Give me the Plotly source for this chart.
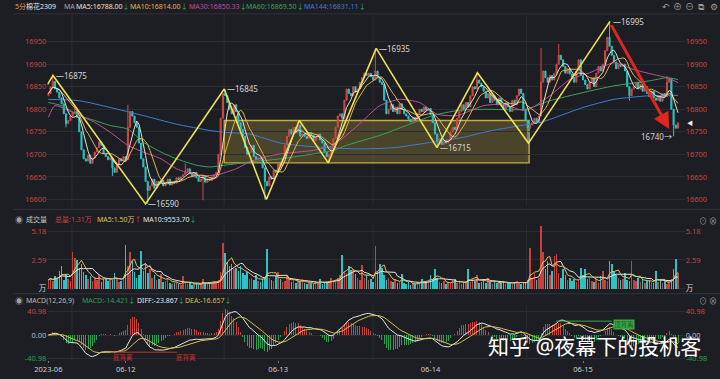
import plotly.graph_objects as go
import pandas as pd

W, H = 720, 379

# ---------------- data ----------------
first_open = 16830
close = [
    16835, 16850, 16862, 16845,                      # 0
    16838, 16825, 16812, 16790, 16768,               # 4
    16775, 16785, 16792, 16795, 16782,               # 9
    16750, 16710, 16690,                             # 14
    16685, 16698, 16680, 16692,                      # 17
    16705, 16715, 16728, 16720,                      # 21
    16702, 16695, 16688, 16692,                      # 25
    16670, 16660,                                    # 29
    16678, 16690, 16685, 16695, 16688,               # 31
    16760, 16795,                                    # 36
    16785, 16770, 16760,                             # 38
    16725, 16690, 16672,                             # 41
    16640, 16620, 16630, 16645, 16625, 16640,        # 44
    16635, 16642, 16630, 16638, 16645, 16632, 16640, 16636, 16648, 16644, 16650,  # 50
    16655, 16662, 16668, 16658, 16650, 16660,        # 61
    16648, 16640, 16645, 16652, 16638, 16645,        # 67
    16642, 16650, 16655, 16660,                      # 73
    16700, 16780, 16835,                             # 77
    16830, 16815, 16800, 16790, 16810, 16795, 16770, 16755, 16740, 16715, 16700,  # 80
    16705, 16720, 16695, 16688, 16692,               # 91
    16690, 16670,                                    # 96
    16640, 16630,                                    # 98
    16650, 16645, 16665, 16660, 16680, 16675, 16690, # 100
    16720, 16740, 16755,                             # 107
    16745, 16760, 16748, 16765, 16740, 16745,        # 110
    16740, 16735, 16748, 16742, 16730, 16738, 16745, 16732, 16725,  # 116
    16705, 16695, 16700, 16712,                      # 125
    16735, 16760, 16785, 16790, 16780,               # 129
    16820, 16845, 16835,                             # 134
    16830, 16850, 16838, 16845,                      # 137
    16860, 16870, 16880, 16875,                      # 141
    16880, 16872, 16865, 16885,                      # 145
    16870, 16860, 16855,                             # 149
    16820, 16790,                                    # 152
    16800, 16810, 16795, 16805, 16790, 16812,        # 154
    16800, 16790, 16785,                             # 160
    16778, 16772, 16782, 16775,                      # 163
    16790, 16800, 16795, 16805, 16798, 16802, 16788, # 167
    16770, 16745, 16728, 16735, 16722, 16730,        # 174
    16725, 16732,                                    # 180
    16750, 16760, 16755,                             # 182
    16780, 16795, 16810, 16800, 16815, 16805,        # 185
    16830, 16850, 16845, 16865, 16858, 16850,        # 191
    16840, 16825, 16835, 16815, 16830, 16820, 16810, 16825,  # 197
    16810, 16800, 16815, 16805, 16795, 16820, 16810, # 205
    16830, 16845, 16835,                             # 212
    16800, 16775,                                    # 215
    16758, 16765,                                    # 217
    16770, 16780, 16772, 16785,                      # 219
    16860, 16885,                                    # 223
    16870, 16860, 16875, 16865, 16880,               # 225
    16900, 16920, 16910,                             # 230
    16895, 16880, 16890, 16878,                      # 233
    16870, 16860, 16885, 16910, 16875, 16865,        # 237
    16855, 16845, 16860, 16870, 16850,               # 243
    16880, 16895, 16885, 16900,                      # 248
    16930, 16960, 16940, 16920,                      # 252
    16905, 16890, 16900, 16895,                      # 256
    16900, 16885,                                    # 260
    16850, 16830, 16845,                             # 262
    16850, 16860, 16845, 16855, 16840, 16850,        # 265
    16835, 16828, 16840,                             # 271
    16825, 16820, 16830, 16818, 16835, 16828,        # 274
    16860, 16868,                                    # 280
    16800,                                           # 282
    16765, 16758, 16770,                             # 283
]

# notable wick extremes (bar index: price)
high_marks = {2: 16875, 12: 16808, 36: 16810, 62: 16680, 80: 16845, 113: 16775,
              148: 16935, 194: 16881, 223: 16936, 231: 16945, 254: 16995, 280: 16874}
low_marks = {8: 16760, 29: 16652, 45: 16590, 70: 16598, 98: 16600, 127: 16681,
             176: 16715, 217: 16725, 263: 16819, 283: 16740}

volume = [  # 万手
    0.8, 1.0, 0.7, 1.1, 0.9, 1.6, 2.0, 0.8, 1.2, 0.9, 0.7, 3.3, 2.8, 2.6,
    1.9, 2.2, 1.5, 1.2, 0.9, 1.1, 0.7, 1.0, 0.8, 1.2, 0.6, 0.9, 1.0, 0.7,
    1.0, 0.8, 1.4, 0.9, 0.6, 0.7, 1.1, 3.9, 2.0, 3.3, 2.5, 1.5, 1.0, 1.2,
    3.4, 1.6, 2.2, 1.4, 1.8, 1.0, 1.2, 0.8, 0.9, 1.3, 0.6, 0.7, 1.0,
    0.5, 0.4, 0.5, 0.6, 0.4, 0.3, 1.1,
    0.5, 0.4, 0.6, 0.3, 0.4, 0.5, 0.3, 0.4, 0.9,
    0.5, 0.4, 0.6, 0.5, 0.7, 0.6, 0.8, 1.5,
    4.1, 3.2, 2.4, 2.0,
    2.2, 1.8, 1.9, 1.6, 2.0, 1.4, 1.2, 1.5, 0.9, 1.0,
    0.8, 1.2, 0.7, 0.6, 0.9, 1.0, 3.6,
    1.0, 0.8, 0.7, 1.1, 1.5, 0.9, 0.6, 0.7,
    1.2, 0.9, 0.6, 0.8, 0.5, 0.7, 0.6, 0.9, 0.5, 0.4,
    0.6, 0.5, 0.4, 0.7, 0.5, 0.9, 0.4, 0.5, 0.6,
    0.7, 1.0, 0.6, 0.8, 1.0, 1.2,
    3.0, 1.6, 1.4, 2.0, 1.7,
    1.8, 1.3, 1.0, 0.8, 2.1, 1.0, 1.2,
    0.8, 0.9, 0.6, 3.8, 1.6, 2.2, 1.9, 1.2,
    0.8, 1.0, 0.7, 0.6, 0.9, 0.5, 0.6, 1.3,
    0.5, 0.4, 0.6, 0.3, 0.5, 0.4, 0.6, 0.5, 0.9, 0.7, 0.6,
    0.8, 1.2, 0.9, 1.8,
    1.0, 0.6, 0.5, 0.7, 0.4, 0.6, 0.5, 0.8, 0.9, 0.5, 0.6, 0.4, 0.5,
    0.7, 1.8, 0.6, 0.9, 0.7, 1.2,
    0.5, 0.6, 0.8, 0.5, 1.0, 0.6, 0.4, 0.7, 0.5,
    0.6, 0.5, 0.7, 0.4, 0.6, 0.5, 0.4, 0.6, 0.7, 0.5, 0.4, 0.6, 0.5, 0.8,
    3.7, 1.0, 1.4, 0.8, 1.0,
    5.6, 3.3, 1.8, 2.5, 1.2, 1.6, 2.9,
    3.1, 1.4, 1.0, 1.8,
    1.2, 0.8, 1.0, 0.7, 0.9, 0.6, 0.8,
    1.9, 1.2, 1.8, 0.9, 1.0,
    0.7, 0.6, 0.9, 0.5, 1.1, 1.6, 0.8, 0.7,
    2.5, 2.2,
    1.5, 1.2, 1.0, 0.8, 0.9, 1.4, 0.8, 0.7,
    2.5,
    0.8, 0.7, 1.0, 0.6, 0.9, 0.5, 0.7, 0.8, 0.6, 0.5,
    1.6,
    0.6, 0.8, 0.5, 0.7, 0.4, 0.6, 0.9,
    1.8, 2.7, 1.4,
]

# slow moving averages (bar index, value)
ma30_x = [0, 3, 11, 21, 28, 36, 43, 51, 58, 67, 76, 85, 91, 98, 105, 120, 129, 140, 150,
          159, 168, 176, 185, 197, 206, 216, 227, 236, 245, 256, 265, 274, 280, 285]
ma30_y = [16782, 16808, 16793, 16771, 16749, 16720, 16705, 16690, 16668, 16654, 16654,
          16668, 16683, 16694, 16701, 16709, 16720, 16764, 16808, 16822, 16815, 16789,
          16786, 16808, 16811, 16797, 16830, 16866, 16881, 16903, 16888, 16877, 16870, 16859]
ma60_x = [0, 6, 14, 21, 28, 36, 43, 51, 58, 67, 73, 80, 91, 105, 120, 129, 135, 150, 162,
          174, 185, 197, 216, 227, 242, 256, 272, 280, 285]
ma60_y = [16815, 16808, 16786, 16775, 16764, 16756, 16727, 16705, 16690, 16676, 16672,
          16676, 16683, 16690, 16701, 16709, 16720, 16742, 16764, 16786, 16797, 16800,
          16800, 16819, 16837, 16852, 16863, 16870, 16866]
ma144_x = [0, 14, 28, 43, 58, 73, 80, 91, 105, 117, 140, 157, 171, 188, 197, 215, 223,
           242, 256, 272, 285]
ma144_y = [16822, 16819, 16804, 16786, 16767, 16753, 16749, 16745, 16725, 16718, 16712,
           16715, 16725, 16738, 16749, 16765, 16771, 16804, 16822, 16830, 16831]

# zig-zag swing line and its labels
zig_x = [-0.4, 2.1, 44, 79.6, 98.7, 113.6, 126.7, 148.4, 175.9, 194.2, 217.3, 254.2]
zig_y = [16855, 16875, 16590, 16845, 16600, 16775, 16681, 16935, 16715, 16881, 16725, 16995]
swing_labels = [(2.1, 16875), (44, 16590), (79.6, 16845), (148.4, 16935), (175.9, 16715), (254.2, 16995)]
arrow_from = (254.4, 16990)
arrow_to = (281, 16756)
last_low = (283, 16740)
box_x = [79.6, 217.6]
box_y = [16681, 16775]

date_ticks = [0, 35, 104, 173, 242]
date_labels = ["2023-06", "06-12", "06-13", "06-14", "06-15"]
price_ticks = [16600, 16650, 16700, 16750, 16800, 16850, 16900, 16950]
session_lines = [10.7, 79.6, 147, 216.5]

assert len(close) == 286 and len(volume) == 286

# ---------------- derived series ----------------
n = len(close)
idx = list(range(n))
opn = [first_open] + close[:-1]
high = [max(o, c) for o, c in zip(opn, close)]
low = [min(o, c) for o, c in zip(opn, close)]
for k, v in high_marks.items():
    high[k] = max(high[k], v)
for k, v in low_marks.items():
    low[k] = min(low[k], v)

cs = pd.Series(close, dtype=float)
ma5 = cs.rolling(5, min_periods=1).mean()
ma10 = cs.rolling(10, min_periods=1).mean()
vs = pd.Series(volume, dtype=float)
vma5 = vs.rolling(5, min_periods=1).mean()
vma10 = vs.rolling(10, min_periods=1).mean()
ema12 = cs.ewm(span=12, adjust=False).mean()
ema26 = cs.ewm(span=26, adjust=False).mean()
diff = ema12 - ema26
dea = diff.ewm(span=9, adjust=False).mean()
macd = 2 * (diff - dea)

RED = "#c8423c"
CYAN = "#2cc3c6"
GREEN = "#2aa052"
BG = "#1c1e23"
GRID = "#2a2d33"
FONT = "Noto Sans, Noto Sans CJK SC, sans-serif"

up = [c >= o for o, c in zip(opn, close)]
vol_colors = [RED if u else CYAN for u in up]
macd_colors = [RED if m >= 0 else GREEN for m in macd]


def ydom(top_px, bot_px):
    return [1 - bot_px / H, 1 - top_px / H]


def xpx(p):
    return p / W


def ypx(p):
    return 1 - p / H


PXPT = 0.4543


def price_at(py):
    return 16950 - (py - 42) / PXPT


main_range = [price_at(208), price_at(15)]
vol_range = [(291 - 293) / 11.2, (291 - 226) / 11.2]
MACD_PX = 0.578
macd_range = [-(363 - 337.7) / MACD_PX, (337.7 - 307) / MACD_PX]

fig = go.Figure()

fig.add_trace(go.Candlestick(
    x=idx, open=opn, high=high, low=low, close=close,
    increasing=dict(line=dict(color="#d44a43", width=1), fillcolor="#bf3d38"),
    decreasing=dict(line=dict(color=CYAN, width=1), fillcolor=CYAN),
    whiskerwidth=0, hoverinfo="skip", yaxis="y"))

for xs, ys, col in [(ma144_x, ma144_y, "#3d7fd0"), (ma60_x, ma60_y, "#3aa45c"),
                    (ma30_x, ma30_y, "#c0509a")]:
    fig.add_trace(go.Scatter(x=xs, y=ys, mode="lines",
                             line=dict(color=col, width=1, shape="spline", smoothing=0.6),
                             hoverinfo="skip", yaxis="y"))
fig.add_trace(go.Scatter(x=idx, y=ma10, mode="lines", line=dict(color="#e2b44c", width=1), hoverinfo="skip", yaxis="y"))
fig.add_trace(go.Scatter(x=idx, y=ma5, mode="lines", line=dict(color="#e8e0cc", width=1), hoverinfo="skip", yaxis="y"))
fig.add_trace(go.Scatter(x=zig_x, y=zig_y, mode="lines", line=dict(color="#f0e052", width=1.6), hoverinfo="skip", yaxis="y"))
fig.add_trace(go.Scatter(x=[0], y=[16800], mode="markers", marker=dict(opacity=0), hoverinfo="skip", yaxis="y2"))

# volume
fig.add_trace(go.Bar(x=idx, y=volume, marker=dict(color=vol_colors, line=dict(width=0)), width=0.7,
                     hoverinfo="skip", yaxis="y3"))
fig.add_trace(go.Scatter(x=idx, y=vma10, mode="lines", line=dict(color="#e6e6e6", width=1), hoverinfo="skip", yaxis="y3"))
fig.add_trace(go.Scatter(x=idx, y=vma5, mode="lines", line=dict(color="#e2c060", width=1), hoverinfo="skip", yaxis="y3"))
fig.add_trace(go.Scatter(x=[0], y=[1], mode="markers", marker=dict(opacity=0), hoverinfo="skip", yaxis="y4"))

# MACD
fig.add_trace(go.Bar(x=idx, y=macd, marker=dict(color=macd_colors, line=dict(width=0)), width=0.45,
                     hoverinfo="skip", yaxis="y5"))
fig.add_trace(go.Scatter(x=idx, y=diff, mode="lines", line=dict(color="#e8e8e8", width=1), hoverinfo="skip", yaxis="y5"))
fig.add_trace(go.Scatter(x=idx, y=dea, mode="lines", line=dict(color="#d8c040", width=1), hoverinfo="skip", yaxis="y5"))
fig.add_trace(go.Scatter(x=[0], y=[0], mode="markers", marker=dict(opacity=0), hoverinfo="skip", yaxis="y6"))

tickfont = dict(family=FONT, size=7.5, color="#c8463f")
common_y = dict(zeroline=False, showline=False, ticks="", fixedrange=True)

vol_ticktext = ['<span style="color:#d8d8d8">万</span>', "2.59", "5.18"]
macd_ticktext = ['<span style="color:#2aa052">-40.98</span>', '<span style="color:#bdbdbd">0.00</span>', "40.98"]

fig.update_layout(
    width=W, height=H, margin=dict(l=0, r=0, t=0, b=0),
    paper_bgcolor=BG, plot_bgcolor=BG, showlegend=False, hovermode=False,
    bargap=0,
    xaxis=dict(domain=[xpx(35), xpx(684)], range=[(35 - 36) / 2.25, (684 - 36) / 2.25],
               anchor="y5", tickvals=date_ticks, ticktext=date_labels,
               tickfont=dict(family=FONT, size=7.5, color="#cfcfcf"),
               ticks="outside", ticklen=2, tickcolor="#777", showgrid=False, zeroline=False,
               showline=False, rangeslider=dict(visible=False), fixedrange=True),
    yaxis=dict(domain=ydom(15, 208), range=main_range, anchor="x", side="left", tickformat="d",
               tickvals=price_ticks, tickfont=tickfont, showgrid=True, gridcolor=GRID, gridwidth=1, **common_y),
    yaxis2=dict(overlaying="y", range=main_range, anchor="x", side="right", tickformat="d",
                tickvals=price_ticks, tickfont=tickfont, showgrid=False, **common_y),
    yaxis3=dict(domain=ydom(226, 293), range=vol_range, anchor="x", side="left",
                tickvals=[0, 2.59, 5.18], ticktext=vol_ticktext, tickfont=tickfont,
                showgrid=True, gridcolor=GRID, **common_y),
    yaxis4=dict(overlaying="y3", range=vol_range, anchor="x", side="right",
                tickvals=[0, 2.59, 5.18], ticktext=vol_ticktext, tickfont=tickfont, showgrid=False, **common_y),
    yaxis5=dict(domain=ydom(307, 363), range=macd_range, anchor="x", side="left",
                tickvals=[-40.98, 0, 40.98], ticktext=macd_ticktext, tickfont=tickfont,
                showgrid=True, gridcolor=GRID, **common_y),
    yaxis6=dict(overlaying="y5", range=macd_range, anchor="x", side="right",
                tickvals=[-40.98, 0, 40.98], ticktext=macd_ticktext, tickfont=tickfont, showgrid=False, **common_y),
)

shapes = []
# consolidation box
shapes.append(dict(type="rect", xref="x", yref="y", x0=box_x[0], x1=box_x[1], y0=box_y[0], y1=box_y[1],
                   fillcolor="rgba(150,132,55,0.38)", line=dict(color="#c9ab3c", width=1.4), layer="below"))
# session grid lines
for sx in session_lines:
    for top, bot in [(15, 208), (226, 293), (307, 363)]:
        shapes.append(dict(type="line", xref="x", yref="paper", x0=sx, x1=sx, y0=ypx(bot), y1=ypx(top),
                           line=dict(color=GRID, width=1), layer="below"))
# panel separators
for py in [14, 211, 296]:
    shapes.append(dict(type="line", xref="paper", yref="paper", x0=0, x1=1, y0=ypx(py), y1=ypx(py),
                       line=dict(color="#30333a", width=1)))
# divergence marks in MACD
shapes.append(dict(type="line", xref="x", yref="paper", x0=28.4, x1=58.2, y0=ypx(355), y1=ypx(355),
                   line=dict(color="#c0392b", width=1)))
shapes.append(dict(type="line", xref="x", yref="paper", x0=229.8, x1=255, y0=ypx(323.7), y1=ypx(323.7),
                   line=dict(color="#3aa845", width=1)))
fig.update_layout(shapes=shapes)

ann = []


def txt(x_px, y_px, s, size=7, color="#d0d0d0", xanchor="left", **kw):
    ann.append(dict(x=xpx(x_px), y=ypx(y_px), xref="paper", yref="paper", text=s, showarrow=False,
                    xanchor=xanchor, yanchor="middle", borderpad=0,
                    font=dict(family=FONT, size=size, color=color), **kw))


DOWN = '<span style="color:#2db04e">↓</span>'
UPA = '<span style="color:#e04040">↑</span>'
# top header
txt(1, 7, "5分", color="#e0a040")
txt(12, 7, "棉花2309", color="#e6e6e6")
txt(51, 7, "MA", color="#a8a8a8")
txt(63, 7, "MA5:16788.00" + DOWN, color="#e8e0cc")
txt(118, 7, "MA10:16814.00" + DOWN, color="#e2b44c")
txt(178, 7, "MA30:16850.33" + DOWN, color="#c0509a")
txt(236, 7, "MA60:16869.50" + DOWN, color="#3aa45c")
txt(295, 7, "MA144:16831.11" + DOWN, color="#3d7fd0")
for i, ch in enumerate(["↶", "⊕", "⊖", "⧉", "⚙"]):
    txt(665 + i * 12.2, 7, ch, size=9, color="#9a9a9a", xanchor="center")

# volume header
txt(1, 221, "◉", size=8, color="#a0a0a0")
txt(12, 221, "成交量", color="#c8c8c8")
txt(42, 221, "总量:1.31万", color="#d04040")
txt(85, 221, "MA5:1.50万" + UPA, color="#e2c060")
txt(131, 221, "MA10:9553.70" + DOWN, color="#e6e6e6")
txt(703, 222, "⊙", size=8, color="#9a9a9a", xanchor="center")
txt(713, 222, "⊗", size=8, color="#9a9a9a", xanchor="center")

# MACD header
txt(1, 303, "◉", size=8, color="#a0a0a0")
txt(12, 303, "MACD(12,26,9)", color="#c0b8a8")
txt(69, 303, "MACD:-14.421" + DOWN, color="#2aa052")
txt(125, 303, "DIFF:-23.867" + DOWN, color="#e6e6e6")
txt(174, 303, "DEA:-16.657" + DOWN, color="#d8c040")
txt(703, 303, "⊙", size=8, color="#9a9a9a", xanchor="center")
txt(713, 303, "⊗", size=8, color="#9a9a9a", xanchor="center")

# divergence labels
txt(112, 360, "底背离", size=6.5, color="#d03030", xanchor="center")
txt(176, 360, "底背离", size=6.5, color="#d03030", xanchor="center")
txt(622, 327, "顶背离", size=6.5, color="#1d5a26", xanchor="center", bgcolor="#3aa845")

# current price marker
txt(685, 124, "◀", size=6, color="#f0f0f0")

# watermark
txt(592, 349, "知乎 @夜幕下的投机客", size=21, color="#ffffff", xanchor="center")

# swing labels in data coordinates
for bx, p in swing_labels:
    ann.append(dict(x=bx + 0.3, y=p, xref="x", yref="y", text="—" + str(p), showarrow=False,
                    xanchor="left", yanchor="middle", font=dict(family=FONT, size=8, color="#d6d6d6")))
ann.append(dict(x=last_low[0], y=last_low[1], xref="x", yref="y", text=str(last_low[1]) + "→",
                showarrow=False, xanchor="right", yanchor="middle",
                font=dict(family=FONT, size=8, color="#d6d6d6")))
# red trend arrow
ann.append(dict(x=arrow_to[0], y=arrow_to[1], xref="x", yref="y", ax=arrow_from[0], ay=arrow_from[1],
                axref="x", ayref="y", text="", showarrow=True, arrowhead=2, arrowsize=1.1,
                arrowwidth=3, arrowcolor="#e0261e"))
fig.update_layout(annotations=ann)

fig.write_html("out.html", config={"displayModeBar": False, "staticPlot": True},
               post_script="document.body.style.margin='0px';document.body.style.overflow='hidden';")
